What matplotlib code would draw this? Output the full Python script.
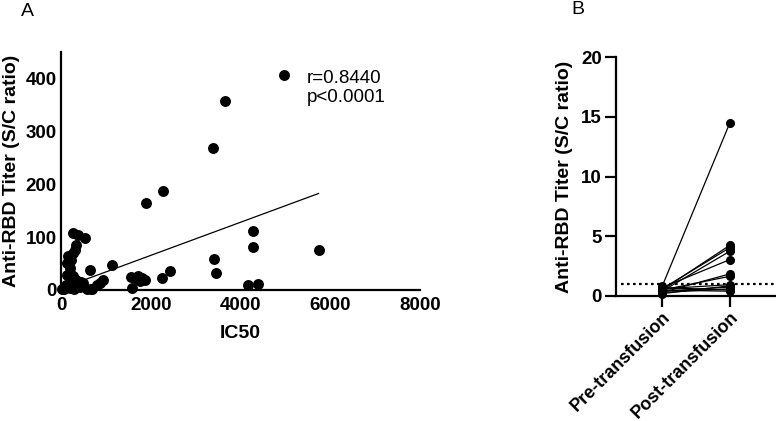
import matplotlib
matplotlib.use("Agg")
import matplotlib.pyplot as plt
import numpy as np

plt.rcParams['font.family'] = ['Liberation Sans', 'DejaVu Sans']

# panel A: IC50 vs anti-RBD titer
ic50 = [4980, 3660, 3385, 2275, 1905, 4275, 4280, 5740, 3400, 3460, 4170, 4385,
        2240, 2420, 1560, 1590, 1650, 1720, 1760, 1800, 1870,
        1130, 640, 940, 800, 660,
        270, 380, 530, 340, 310, 260, 160, 130, 200, 130, 270, 340, 200, 230,
        90, 200, 350, 500, 680, 870, 570, 15, 60, 120, 240, 420, 300, 450]
titer = [407, 357, 269, 187, 165, 111, 82, 75, 58, 33, 9, 12,
         23, 35, 25, 3, 22, 27, 17, 22, 18,
         47, 37, 18, 10, 1,
         108, 104, 98, 86, 76, 70, 64, 51, 41, 28, 26, 19, 33, 56,
         6, 4, 9, 13, 1, 13, 2, 2, 1, 10, 14, 5, 2, 15]
fit_slope = 0.0313
fit_intercept = 2.85
r_text = "r=0.8440"
p_text = "p<0.0001"

# panel B: paired pre/post transfusion
groups = ["Pre-transfusion", "Post-transfusion"]
pre = [0.8, 0.5, 0.6, 0.4, 0.7, 0.3, 0.5, 0.6, 0.2, 0.4, 0.3, 0.7, 0.5]
post = [14.5, 4.25, 4.05, 3.75, 3.05, 1.85, 1.65, 0.95, 0.85, 0.75, 0.6, 0.5, 0.4]
cutoff = 1.0

fig = plt.figure(figsize=(7.76, 4.21), dpi=100)

# ---- A ----
ax1 = fig.add_axes([61/776, 1-290/421, (420-61)/776, (290-52)/421])
ax1.scatter(ic50, titer, s=62, color='black', zorder=3, clip_on=False, linewidths=0)
xx = np.array([min(ic50), max(ic50)])
ax1.plot(xx, fit_intercept + fit_slope*xx, color='black', lw=0.9)
ax1.set_xlim(0, 8000)
ax1.set_ylim(0, 450)
ax1.set_xticks([0, 2000, 4000, 6000, 8000])
ax1.set_yticks([0, 100, 200, 300, 400])
for s in ['top', 'right']:
    ax1.spines[s].set_visible(False)
for s in ['left', 'bottom']:
    ax1.spines[s].set_linewidth(1.6)
ax1.tick_params(length=0, labelsize=13.5)
ax1.tick_params(axis='y', pad=3)
ax1.tick_params(axis='x', pad=5)
for lab in ax1.get_xticklabels() + ax1.get_yticklabels():
    lab.set_fontweight('bold')
ax1.set_xlabel("IC50", fontsize=14, fontweight='bold', labelpad=8)
ax1.set_ylabel("Anti-RBD Titer (S/C ratio)", fontsize=14, fontweight='bold', labelpad=4)
ax1.text(0.685, 0.925, r_text + "\n" + p_text, transform=ax1.transAxes,
         fontsize=13.5, va='top', ha='left', linespacing=1.2)

# ---- B ----
ax2 = fig.add_axes([616/776, 1-296/421, (776-616)/776, (296-57)/421])
xpos = np.arange(len(groups))
for a, b in zip(pre, post):
    ax2.plot(xpos, [a, b], color='black', lw=0.9, marker='o', ms=5.5,
             clip_on=False, zorder=3)
ax2.axhline(cutoff, xmin=0.03, color='black', ls=(0, (1.2, 1.5)), lw=1.6)
ax2.set_xlim(-0.68, 1.68)
ax2.set_ylim(0, 20)
ax2.set_yticks([0, 5, 10, 15, 20])
ax2.set_xticks(xpos)
ax2.set_xticklabels(groups, rotation=45, ha='right', va='top', rotation_mode='anchor')
for s in ['top', 'right']:
    ax2.spines[s].set_visible(False)
for s in ['left', 'bottom']:
    ax2.spines[s].set_linewidth(1.6)
ax2.tick_params(length=8, width=1.6, labelsize=13.5)
ax2.tick_params(axis='y', pad=2)
ax2.tick_params(axis='x', pad=1, labelsize=13)
for lab in ax2.get_xticklabels() + ax2.get_yticklabels():
    lab.set_fontweight('bold')
ax2.set_ylabel("Anti-RBD Titer (S/C ratio)", fontsize=14, fontweight='bold', labelpad=6)

fig.text(27/776, 1-12/421, "A", fontsize=14, ha='center', va='center')
fig.text(578/776, 1-10/421, "B", fontsize=14, ha='center', va='center')

fig.savefig("out.png", dpi=100)
